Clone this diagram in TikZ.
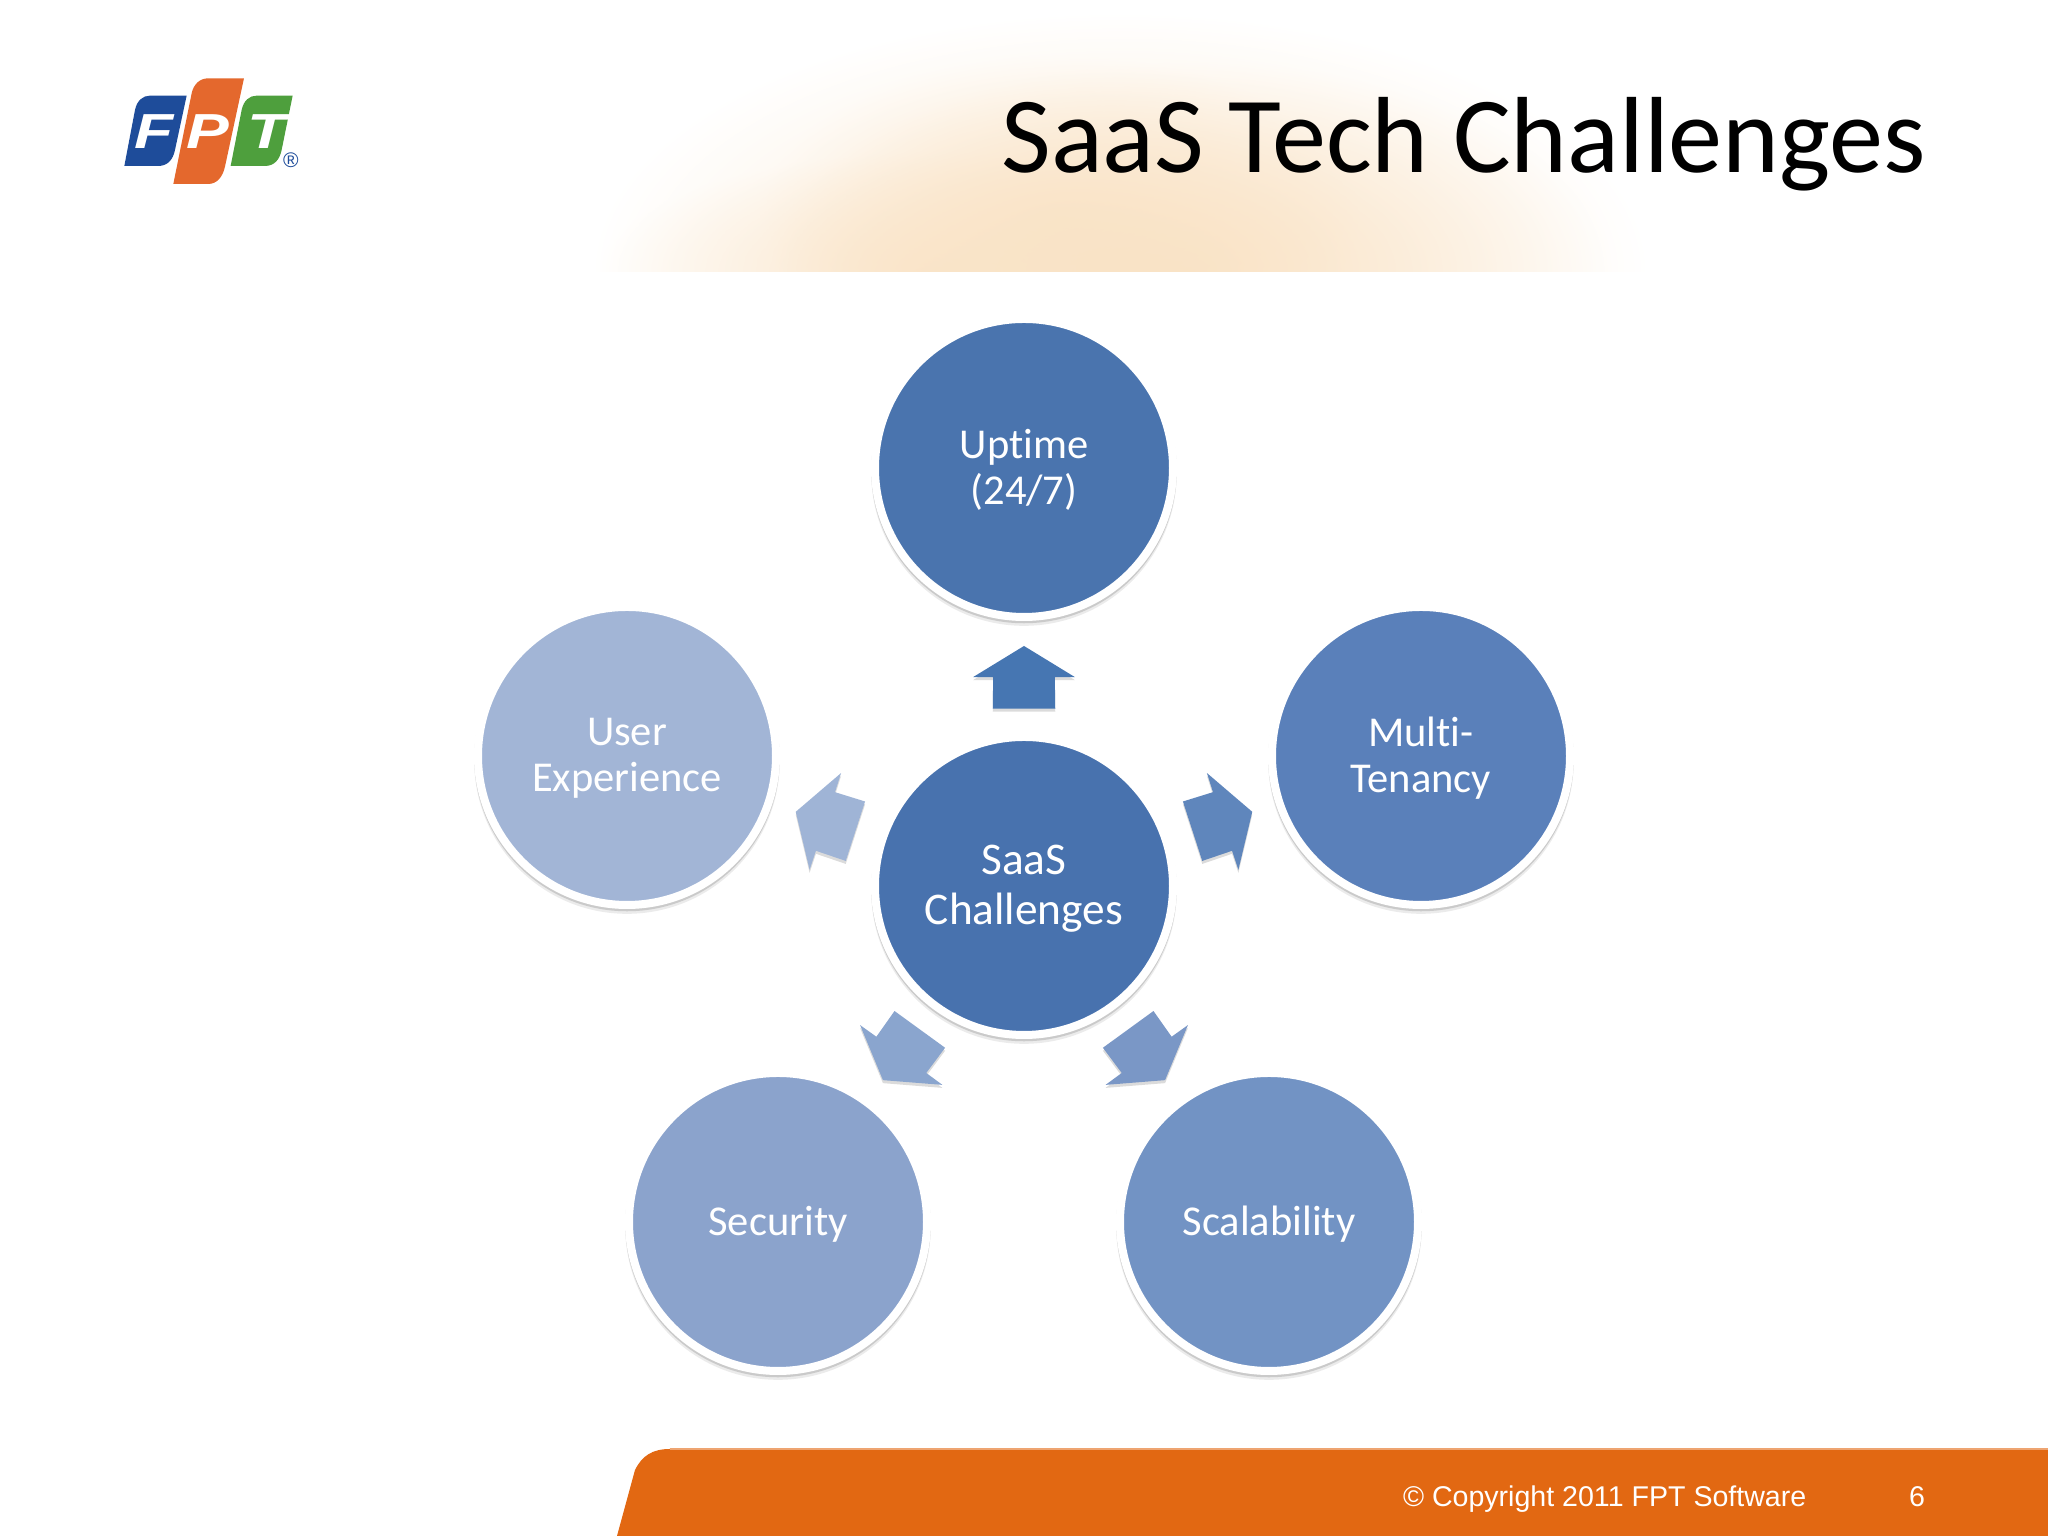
\documentclass[tikz,border=0pt]{standalone}
\usepackage{fontspec}
\setmainfont[Ligatures=NoCommon]{Carlito}
\newfontfamily\footfont{Liberation Sans}
\usetikzlibrary{fadings}
\usetikzlibrary{shadows}
\definecolor{hubblue}{HTML}{4872AE}
\definecolor{upblue}{HTML}{4A74AE}
\definecolor{multiblue}{HTML}{5A80BA}
\definecolor{scaleblue}{HTML}{7293C4}
\definecolor{secblue}{HTML}{8BA3CC}
\definecolor{userblue}{HTML}{A2B5D6}
\definecolor{arrowa}{HTML}{4676B2}
\definecolor{arrowb}{HTML}{5F86BC}
\definecolor{arrowc}{HTML}{7A97C6}
\definecolor{arrowd}{HTML}{8AA5CE}
\definecolor{arrowe}{HTML}{9FB4D6}
\definecolor{glow}{HTML}{F9E2C4}
\definecolor{footorange}{HTML}{E26812}
\definecolor{logoblue}{HTML}{1E4C9A}
\definecolor{logoorange}{HTML}{E4682D}
\definecolor{logogreen}{HTML}{4E9F3D}
\tikzfading[name=glowfade, inner color=transparent!0, outer color=transparent!100]
\tikzset{
    softshadow/.style={
        drop shadow={opacity=.08, fill=black, shadow scale=1.025, shadow xshift=0cm, shadow yshift=-.05cm},
        drop shadow={opacity=.14, fill=black, shadow scale=1.025, shadow xshift=0cm, shadow yshift=-.025cm}},
    petal/.style={circle, draw=white, line width=.08cm, minimum size=2.98cm, inner sep=0pt, outer sep=0pt,
        text=white, align=center, text depth=.5pt, font=\fontsize{12.1}{13.1}\selectfont, softshadow},
    logoletter/.style={text=white, inner sep=0pt, font=\footfont\bfseries\itshape\fontsize{14}{14}\selectfont,
        xscale=1.3, transform shape},
}
\begin{document}
\begin{tikzpicture}
    \useasboundingbox (0, 0) rectangle (20.48, 15.36);
    % glow behind the title
    \begin{scope}
        \clip (5, 12.64) rectangle (17, 15.36);
        \fill[glow, opacity=.8, path fading=glowfade] (11.2, 12.64) ellipse (5.3 and 2.6);
        \fill[glow, opacity=.7, path fading=glowfade] (9.3, 12.64) ellipse (3.3 and 1.2);
        \fill[glow, opacity=.8, path fading=glowfade] (11.9, 12.64) ellipse (4.2 and 2.1);
        \fill[glow, opacity=.6, path fading=glowfade] (10.6, 13.2) ellipse (3 and 1.6);
    \end{scope}
    % logo
    \begin{scope}[shift={(.9, 14.86)}, x=1cm/300, y=-1cm/300]
        \fill[logoblue] (103, 348) -- (135, 180) .. controls (141, 152) and (158, 137) .. (180, 137) -- (290, 137) -- (255, 300) .. controls (249, 330) and (232, 348) .. (205, 348) -- cycle;
        \fill[logoorange] (250, 402) -- (305, 130) .. controls (311, 102) and (330, 85) .. (355, 85) -- (462, 85) -- (405, 350) .. controls (398, 382) and (380, 402) .. (355, 402) -- cycle;
        \fill[logogreen] (422, 348) -- (455, 180) .. controls (461, 152) and (478, 137) .. (500, 137) -- (608, 137) -- (575, 300) .. controls (569, 330) and (552, 348) .. (525, 348) -- cycle;
        \node[logoletter] (letterf) at (192, 245) {F};
        \node[logoletter] (letterp) at (355, 245) {P};
        \node[logoletter] (lettert) at (530, 245) {T};
        \node[text=logoblue, inner sep=0pt, font=\footfont\fontsize{6}{6}\selectfont] (regmark) at (603, 330) {®};
    \end{scope}
    \node[anchor=base east, inner sep=0pt, font=\fontsize{30.8}{30.8}\selectfont] (title) at (19.27, 13.63) {SaaS Tech Challenges};
    % footer
    \fill[footorange] (6.17, 0) -- (6.35, .66) .. controls (6.42, .80) and (6.52, .87) .. (6.70, .87) -- (20.48, .87) -- (20.48, 0) -- cycle;
    \draw[footorange!60!white, line width=.015cm] (6.70, .87) -- (20.48, .87);
    \node[anchor=base east, inner sep=0pt, text=white, font=\footfont\fontsize{8.13}{8.13}\selectfont] (copyright) at (18.07, .295) {© Copyright 2011 FPT Software};
    \node[anchor=base, inner sep=0pt, text=white, font=\footfont\fontsize{8.13}{8.13}\selectfont] (pagenum) at (19.17, .295) {6};
    % the five block arrows
    \coordinate (hub) at (10.24, 6.50);
    \begin{scope}[shift={(hub)}]
        \foreach \a/\c in {90/arrowa, 18/arrowb, -54/arrowc, -126/arrowd, 162/arrowe} {
            \fill[\c, drop shadow={opacity=.14, fill=black, shadow xshift=0cm, shadow yshift=-.03cm}]
                (\a:2.40) -- (\a+13.7:2.15) -- (\a+8.4:2.11) -- (\a+10:1.80)
                -- (\a-10:1.80) -- (\a-8.4:2.11) -- (\a-13.7:2.15) -- cycle;
        }
    \end{scope}
    % circles
    \node[petal, fill=hubblue, font=\fontsize{12.9}{14.2}\selectfont] (centre) at (hub) {SaaS\\Challenges};
    \node[petal, fill=upblue] (uptime) at (10.24, 10.68) {Uptime\\(24/7)};
    \node[petal, fill=multiblue] (multi) at (14.21, 7.80) {Multi-\\Tenancy};
    \node[petal, fill=scaleblue] (scalability) at (12.69, 3.14) {Scalability};
    \node[petal, fill=secblue] (security) at (7.78, 3.14) {Security};
    \node[petal, fill=userblue] (userexp) at (6.27, 7.80) {User\\Experience};
\end{tikzpicture}
\end{document}
